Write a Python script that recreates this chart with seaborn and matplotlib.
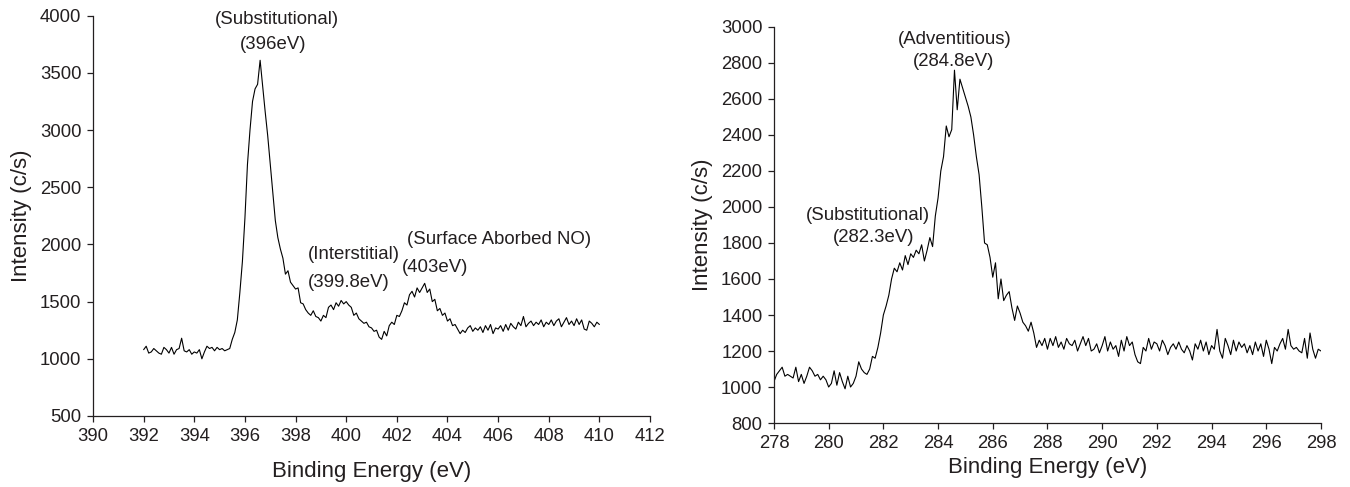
import numpy as np
import pandas as pd
import matplotlib
matplotlib.use("Agg")
import matplotlib.pyplot as plt
import seaborn as sns

# N 1s spectrum (left panel), 0.1 eV steps from 392.0 to 410.0
n1s_energy = np.round(np.arange(392.0, 410.05, 0.1), 1)
n1s_counts = [
    1080, 1110, 1050, 1060, 1090, 1070, 1050, 1040, 1100, 1080,
    1050, 1100, 1040, 1080, 1090, 1180, 1070, 1060, 1080, 1040,
    1060, 1050, 1080, 1000, 1060, 1110, 1090, 1100, 1070, 1100,
    1080, 1090, 1070, 1080, 1090, 1170, 1230, 1340, 1580, 1850,
    2230, 2700, 3000, 3250, 3360, 3400, 3610, 3380, 3160, 2950,
    2700, 2440, 2210, 2060, 1960, 1880, 1740, 1770, 1670, 1640,
    1610, 1620, 1490, 1480, 1430, 1400, 1380, 1420, 1370, 1360,
    1330, 1380, 1360, 1450, 1470, 1430, 1490, 1460, 1510, 1480,
    1500, 1470, 1450, 1380, 1400, 1350, 1330, 1310, 1320, 1280,
    1270, 1240, 1250, 1190, 1170, 1240, 1200, 1290, 1320, 1300,
    1380, 1370, 1420, 1490, 1470, 1560, 1590, 1540, 1620, 1580,
    1620, 1660, 1580, 1610, 1500, 1520, 1420, 1440, 1380, 1400,
    1330, 1350, 1290, 1300, 1260, 1220, 1250, 1230, 1270, 1290,
    1240, 1270, 1250, 1280, 1230, 1290, 1250, 1300, 1220, 1270,
    1260, 1290, 1240, 1300, 1250, 1310, 1280, 1260, 1320, 1290,
    1370, 1280, 1310, 1330, 1290, 1320, 1300, 1340, 1280, 1320,
    1300, 1340, 1290, 1330, 1350, 1280, 1320, 1360, 1300, 1330,
    1290, 1350, 1300, 1340, 1260, 1250, 1330, 1310, 1280, 1320,
    1300,
]

# C 1s spectrum (right panel), 0.1 eV steps from 278.0 to 298.0
c1s_energy = np.round(np.arange(278.0, 298.05, 0.1), 1)
c1s_counts = [
    1030, 1070, 1090, 1110, 1060, 1070, 1060, 1050, 1110, 1030,
    1070, 1020, 1060, 1110, 1090, 1060, 1070, 1040, 1060, 1040,
    1000, 1020, 1090, 1010, 1080, 1030, 990, 1060, 1000, 1020,
    1060, 1140, 1100, 1080, 1070, 1100, 1170, 1160, 1220, 1300,
    1400, 1450, 1510, 1600, 1660, 1640, 1690, 1650, 1730, 1680,
    1740, 1720, 1760, 1740, 1790, 1700, 1760, 1830, 1780, 1950,
    2050, 2200, 2280, 2450, 2390, 2430, 2760, 2540, 2710, 2660,
    2610, 2560, 2500, 2400, 2280, 2180, 2000, 1800, 1790, 1720,
    1610, 1690, 1490, 1600, 1480, 1510, 1530, 1440, 1370, 1450,
    1410, 1360, 1340, 1310, 1360, 1300, 1220, 1260, 1230, 1270,
    1210, 1270, 1230, 1280, 1220, 1250, 1210, 1270, 1240, 1230,
    1260, 1200, 1240, 1280, 1230, 1270, 1200, 1210, 1240, 1190,
    1230, 1280, 1200, 1250, 1210, 1230, 1170, 1260, 1200, 1280,
    1230, 1250, 1180, 1140, 1130, 1220, 1200, 1270, 1210, 1250,
    1240, 1200, 1260, 1230, 1180, 1220, 1240, 1210, 1250, 1210,
    1190, 1230, 1200, 1150, 1240, 1210, 1260, 1200, 1250, 1180,
    1230, 1210, 1320, 1200, 1160, 1270, 1230, 1180, 1260, 1200,
    1250, 1220, 1240, 1190, 1230, 1180, 1250, 1200, 1240, 1170,
    1260, 1210, 1130, 1220, 1200, 1240, 1270, 1210, 1320, 1230,
    1210, 1220, 1200, 1190, 1270, 1160, 1300, 1210, 1160, 1210,
    1200,
]

n1s_labels = [("(Substitutional)", 397.25, 3965), ("(396eV)", 397.1, 3745),
              ("(Interstitial)", 400.3, 1915), ("(399.8eV)", 400.1, 1665),
              ("(Surface Aborbed NO)", 406.05, 2040), ("(403eV)", 403.5, 1795)]
c1s_labels = [("(Adventitious)", 284.62, 2928), ("(284.8eV)", 284.58, 2807),
              ("(Substitutional)", 281.44, 1950), ("(282.3eV)", 281.66, 1832)]

sns.set_style("ticks")
plt.rcParams['font.family'] = ['Liberation Sans', 'DejaVu Sans']
ink = "#231f20"
plt.rcParams.update({
    "axes.edgecolor": ink, "xtick.color": ink, "ytick.color": ink,
    "text.color": ink, "axes.labelcolor": ink, "axes.linewidth": 0.9,
    "xtick.major.width": 0.9, "ytick.major.width": 0.9,
    "xtick.major.size": 4.3, "ytick.major.size": 4.3,
})

fig = plt.figure(figsize=(13.5, 4.87), dpi=100)
ax1 = fig.add_axes([0.0689, 0.1458, 0.4126, 0.822])
ax2 = fig.add_axes([0.5733, 0.1314, 0.4052, 0.8132])

df1 = pd.DataFrame({"energy": n1s_energy, "counts": n1s_counts})
df2 = pd.DataFrame({"energy": c1s_energy, "counts": c1s_counts})

sns.lineplot(data=df1, x="energy", y="counts", ax=ax1, color="black", lw=0.8)
sns.lineplot(data=df2, x="energy", y="counts", ax=ax2, color="black", lw=0.8)

ax1.set_xlim(390, 412)
ax1.set_ylim(500, 4000)
ax1.set_xticks(np.arange(390, 413, 2))
ax1.set_yticks(np.arange(500, 4001, 500))

ax2.set_xlim(278, 298)
ax2.set_ylim(800, 3000)
ax2.set_xticks(np.arange(278, 299, 2))
ax2.set_yticks(np.arange(800, 3001, 200))

for ax, labels in [(ax1, n1s_labels), (ax2, c1s_labels)]:
    ax.set_xlabel("Binding Energy (eV)", fontsize=16, labelpad=12)
    ax.set_ylabel("Intensity (c/s)", fontsize=16, labelpad=6)
    ax.tick_params(labelsize=13.3, pad=4)
    for txt, x, y in labels:
        ax.text(x, y, txt, fontsize=13.4, ha="center", va="center")
    sns.despine(ax=ax)

ax2.xaxis.labelpad = 4

plt.savefig("out.png", dpi=100)
